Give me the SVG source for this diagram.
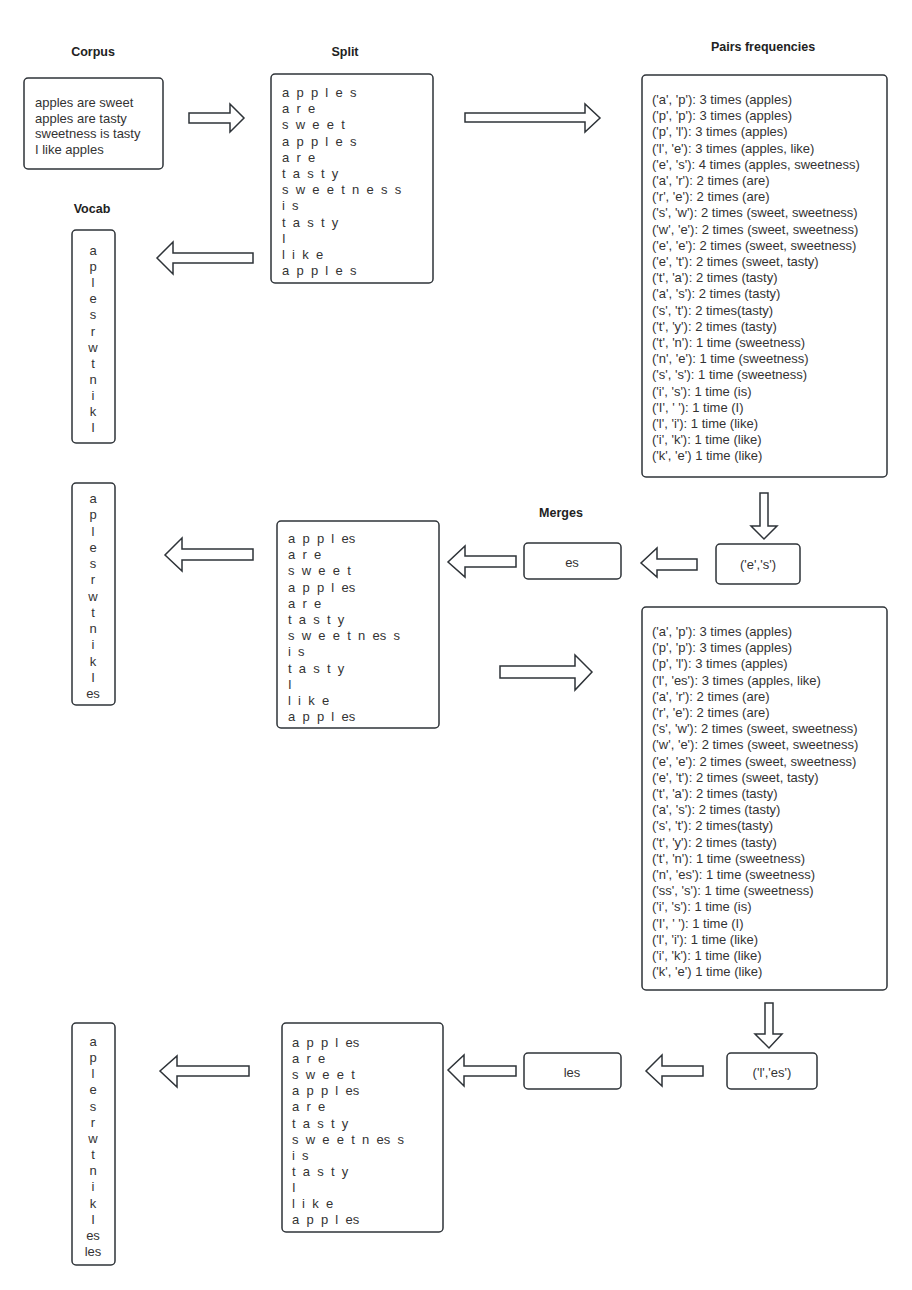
<svg xmlns="http://www.w3.org/2000/svg" width="912" height="1290" viewBox="0 0 912 1290">
  <style>
    .box { fill: #ffffff; stroke: #2e3338; stroke-width: 1.5; }
    .arrow { fill: #ffffff; stroke: #2e3338; stroke-width: 1.5; stroke-linejoin: miter; }
    text { font-family: "Liberation Sans", Arial, sans-serif; font-size: 13px; fill: #333333; }
    .title { font-weight: bold; font-size: 12.5px; text-anchor: middle; fill: #222222; }
    .mid { text-anchor: middle; }
    .spaced { white-space: pre; }
  </style>

  <rect width="912" height="1290" fill="#ffffff"/>

  <!-- section titles -->
  <g id="titles">
    <text class="title" x="93" y="56">Corpus</text>
    <text class="title" x="345" y="56">Split</text>
    <text class="title" x="763" y="51">Pairs frequencies</text>
    <text class="title" x="92" y="213">Vocab</text>
    <text class="title" x="561" y="517">Merges</text>
  </g>

  <!-- block arrows between steps -->
  <g id="connectors">
    <polygon class="arrow" points="189,113 230,113 230,104 244,118 230,132 230,123 189,123"/>
    <polygon class="arrow" points="465,113 585,113 585,104 600,118 585,132 585,122 465,122"/>
    <polygon class="arrow" points="253,253 173,253 173,242 157,258 173,274 173,263 253,263"/>
    <polygon class="arrow" points="760,493 768,493 768,526 777,526 764,539 751,526 760,526"/>
    <polygon class="arrow" points="697,559 657,559 657,548 641,563 657,577 657,570 697,570"/>
    <polygon class="arrow" points="516,556 465,556 465,546 448,562 465,577 465,567 516,567"/>
    <polygon class="arrow" points="253,549 182,549 182,538 165,555 182,571 182,560 253,560"/>
    <polygon class="arrow" points="500,666 575,666 575,655 592,672 575,690 575,678 500,678"/>
    <polygon class="arrow" points="765,1003 773,1003 773,1034 782,1034 769,1048 755,1034 765,1034"/>
    <polygon class="arrow" points="703,1066 662,1066 662,1055 646,1071 662,1086 662,1076 703,1076"/>
    <polygon class="arrow" points="516,1066 464,1066 464,1055 448,1070 464,1086 464,1076 516,1076"/>
    <polygon class="arrow" points="249,1066 177,1066 177,1056 160,1071 177,1087 177,1076 249,1076"/>
  </g>

  <!-- corpus -->
  <g id="corpus">
    <rect class="box" x="24" y="78" width="139" height="91" rx="4"/>
    <text x="35" y="107">apples are sweet</text>
    <text x="35" y="123">apples are tasty</text>
    <text x="35" y="138">sweetness is tasty</text>
    <text x="35" y="154">I like apples</text>
  </g>

  <!-- initial character split -->
  <g id="split-1">
    <rect class="box" x="271" y="74" width="162" height="209" rx="4"/>
    <text class="spaced" x="282" y="97">a  p  p  l  e  s<tspan x="282" dy="16.2">a  r  e</tspan><tspan x="282" dy="16.2">s  w  e  e  t</tspan><tspan x="282" dy="16.2">a  p  p  l  e  s</tspan><tspan x="282" dy="16.2">a  r  e</tspan><tspan x="282" dy="16.2">t  a  s  t  y</tspan><tspan x="282" dy="16.2">s  w  e  e  t  n  e  s  s</tspan><tspan x="282" dy="16.2">i  s</tspan><tspan x="282" dy="16.2">t  a  s  t  y</tspan><tspan x="282" dy="16.2">I</tspan><tspan x="282" dy="16.2">l  i  k  e</tspan><tspan x="282" dy="16.2">a  p  p  l  e  s</tspan></text>
  </g>

  <!-- pair counts, first pass -->
  <g id="pairs-1">
    <rect class="box" x="642" y="75" width="245" height="402" rx="4"/>
    <text x="652" y="104">('a', 'p'): 3 times (apples)<tspan x="652" dy="16.2">('p', 'p'): 3 times (apples)</tspan><tspan x="652" dy="16.2">('p', 'l'): 3 times (apples)</tspan><tspan x="652" dy="16.2">('l', 'e'): 3 times (apples, like)</tspan><tspan x="652" dy="16.2">('e', 's'): 4 times (apples, sweetness)</tspan><tspan x="652" dy="16.2">('a', 'r'): 2 times (are)</tspan><tspan x="652" dy="16.2">('r', 'e'): 2 times (are)</tspan><tspan x="652" dy="16.2">('s', 'w'): 2 times (sweet, sweetness)</tspan><tspan x="652" dy="16.2">('w', 'e'): 2 times (sweet, sweetness)</tspan><tspan x="652" dy="16.2">('e', 'e'): 2 times (sweet, sweetness)</tspan><tspan x="652" dy="16.2">('e', 't'): 2 times (sweet, tasty)</tspan><tspan x="652" dy="16.2">('t', 'a'): 2 times (tasty)</tspan><tspan x="652" dy="16.2">('a', 's'): 2 times (tasty)</tspan><tspan x="652" dy="16.2">('s', 't'): 2 times(tasty)</tspan><tspan x="652" dy="16.2">('t', 'y'): 2 times (tasty)</tspan><tspan x="652" dy="16.2">('t', 'n'): 1 time (sweetness)</tspan><tspan x="652" dy="16.2">('n', 'e'): 1 time (sweetness)</tspan><tspan x="652" dy="16.2">('s', 's'): 1 time (sweetness)</tspan><tspan x="652" dy="16.2">('i', 's'): 1 time (is)</tspan><tspan x="652" dy="16.2">('I', ' '): 1 time (I)</tspan><tspan x="652" dy="16.2">('l', 'i'): 1 time (like)</tspan><tspan x="652" dy="16.2">('i', 'k'): 1 time (like)</tspan><tspan x="652" dy="16.2">('k', 'e') 1 time (like)</tspan></text>
  </g>

  <!-- vocabulary, initial -->
  <g id="vocab-1">
    <rect class="box" x="72" y="230" width="43" height="213" rx="4"/>
    <text class="mid" x="93" y="255">a<tspan x="93" dy="16.1">p</tspan><tspan x="93" dy="16.1">l</tspan><tspan x="93" dy="16.1">e</tspan><tspan x="93" dy="16.1">s</tspan><tspan x="93" dy="16.1">r</tspan><tspan x="93" dy="16.1">w</tspan><tspan x="93" dy="16.1">t</tspan><tspan x="93" dy="16.1">n</tspan><tspan x="93" dy="16.1">i</tspan><tspan x="93" dy="16.1">k</tspan><tspan x="93" dy="16.1">I</tspan></text>
  </g>

  <!-- first merge -->
  <g id="pair-es">
    <rect class="box" x="716" y="544" width="84" height="40" rx="4"/>
    <text class="mid" x="758" y="569">('e','s')</text>
  </g>
  <g id="merge-es">
    <rect class="box" x="524" y="543" width="97" height="36" rx="4"/>
    <text class="mid" x="572" y="567">es</text>
  </g>

  <g id="split-2">
    <rect class="box" x="277" y="521" width="162" height="207" rx="4"/>
    <text class="spaced" x="288" y="543">a  p  p  l  es<tspan x="288" dy="16.2">a  r  e</tspan><tspan x="288" dy="16.2">s  w  e  e  t</tspan><tspan x="288" dy="16.2">a  p  p  l  es</tspan><tspan x="288" dy="16.2">a  r  e</tspan><tspan x="288" dy="16.2">t  a  s  t  y</tspan><tspan x="288" dy="16.2">s  w  e  e  t  n  es  s</tspan><tspan x="288" dy="16.2">i  s</tspan><tspan x="288" dy="16.2">t  a  s  t  y</tspan><tspan x="288" dy="16.2">I</tspan><tspan x="288" dy="16.2">l  i  k  e</tspan><tspan x="288" dy="16.2">a  p  p  l  es</tspan></text>
  </g>

  <g id="vocab-2">
    <rect class="box" x="72" y="483" width="43" height="222" rx="4"/>
    <text class="mid" x="93" y="503">a<tspan x="93" dy="16.25">p</tspan><tspan x="93" dy="16.25">l</tspan><tspan x="93" dy="16.25">e</tspan><tspan x="93" dy="16.25">s</tspan><tspan x="93" dy="16.25">r</tspan><tspan x="93" dy="16.25">w</tspan><tspan x="93" dy="16.25">t</tspan><tspan x="93" dy="16.25">n</tspan><tspan x="93" dy="16.25">i</tspan><tspan x="93" dy="16.25">k</tspan><tspan x="93" dy="16.25">I</tspan><tspan x="93" dy="16.25">es</tspan></text>
  </g>

  <!-- pair counts, second pass -->
  <g id="pairs-2">
    <rect class="box" x="642" y="607" width="245" height="383" rx="4"/>
    <text x="652" y="636">('a', 'p'): 3 times (apples)<tspan x="652" dy="16.2">('p', 'p'): 3 times (apples)</tspan><tspan x="652" dy="16.2">('p', 'l'): 3 times (apples)</tspan><tspan x="652" dy="16.2">('l', 'es'): 3 times (apples, like)</tspan><tspan x="652" dy="16.2">('a', 'r'): 2 times (are)</tspan><tspan x="652" dy="16.2">('r', 'e'): 2 times (are)</tspan><tspan x="652" dy="16.2">('s', 'w'): 2 times (sweet, sweetness)</tspan><tspan x="652" dy="16.2">('w', 'e'): 2 times (sweet, sweetness)</tspan><tspan x="652" dy="16.2">('e', 'e'): 2 times (sweet, sweetness)</tspan><tspan x="652" dy="16.2">('e', 't'): 2 times (sweet, tasty)</tspan><tspan x="652" dy="16.2">('t', 'a'): 2 times (tasty)</tspan><tspan x="652" dy="16.2">('a', 's'): 2 times (tasty)</tspan><tspan x="652" dy="16.2">('s', 't'): 2 times(tasty)</tspan><tspan x="652" dy="16.2">('t', 'y'): 2 times (tasty)</tspan><tspan x="652" dy="16.2">('t', 'n'): 1 time (sweetness)</tspan><tspan x="652" dy="16.2">('n', 'es'): 1 time (sweetness)</tspan><tspan x="652" dy="16.2">('ss', 's'): 1 time (sweetness)</tspan><tspan x="652" dy="16.2">('i', 's'): 1 time (is)</tspan><tspan x="652" dy="16.2">('I', ' '): 1 time (I)</tspan><tspan x="652" dy="16.2">('l', 'i'): 1 time (like)</tspan><tspan x="652" dy="16.2">('i', 'k'): 1 time (like)</tspan><tspan x="652" dy="16.2">('k', 'e') 1 time (like)</tspan></text>
  </g>

  <!-- second merge -->
  <g id="pair-les">
    <rect class="box" x="727" y="1053" width="90" height="36" rx="4"/>
    <text class="mid" x="772" y="1077">('l','es')</text>
  </g>
  <g id="merge-les">
    <rect class="box" x="524" y="1053" width="97" height="36" rx="4"/>
    <text class="mid" x="572" y="1077">les</text>
  </g>

  <g id="split-3">
    <rect class="box" x="282" y="1023" width="161" height="209" rx="4"/>
    <text class="spaced" x="292" y="1047">a  p  p  l  es<tspan x="292" dy="16.1">a  r  e</tspan><tspan x="292" dy="16.1">s  w  e  e  t</tspan><tspan x="292" dy="16.1">a  p  p  l  es</tspan><tspan x="292" dy="16.1">a  r  e</tspan><tspan x="292" dy="16.1">t  a  s  t  y</tspan><tspan x="292" dy="16.1">s  w  e  e  t  n  es  s</tspan><tspan x="292" dy="16.1">i  s</tspan><tspan x="292" dy="16.1">t  a  s  t  y</tspan><tspan x="292" dy="16.1">I</tspan><tspan x="292" dy="16.1">l  i  k  e</tspan><tspan x="292" dy="16.1">a  p  p  l  es</tspan></text>
  </g>

  <g id="vocab-3">
    <rect class="box" x="72" y="1023" width="43" height="242" rx="4"/>
    <text class="mid" x="93" y="1046">a<tspan x="93" dy="16.15">p</tspan><tspan x="93" dy="16.15">l</tspan><tspan x="93" dy="16.15">e</tspan><tspan x="93" dy="16.15">s</tspan><tspan x="93" dy="16.15">r</tspan><tspan x="93" dy="16.15">w</tspan><tspan x="93" dy="16.15">t</tspan><tspan x="93" dy="16.15">n</tspan><tspan x="93" dy="16.15">i</tspan><tspan x="93" dy="16.15">k</tspan><tspan x="93" dy="16.15">I</tspan><tspan x="93" dy="16.15">es</tspan><tspan x="93" dy="16.15">les</tspan></text>
  </g>
</svg>
